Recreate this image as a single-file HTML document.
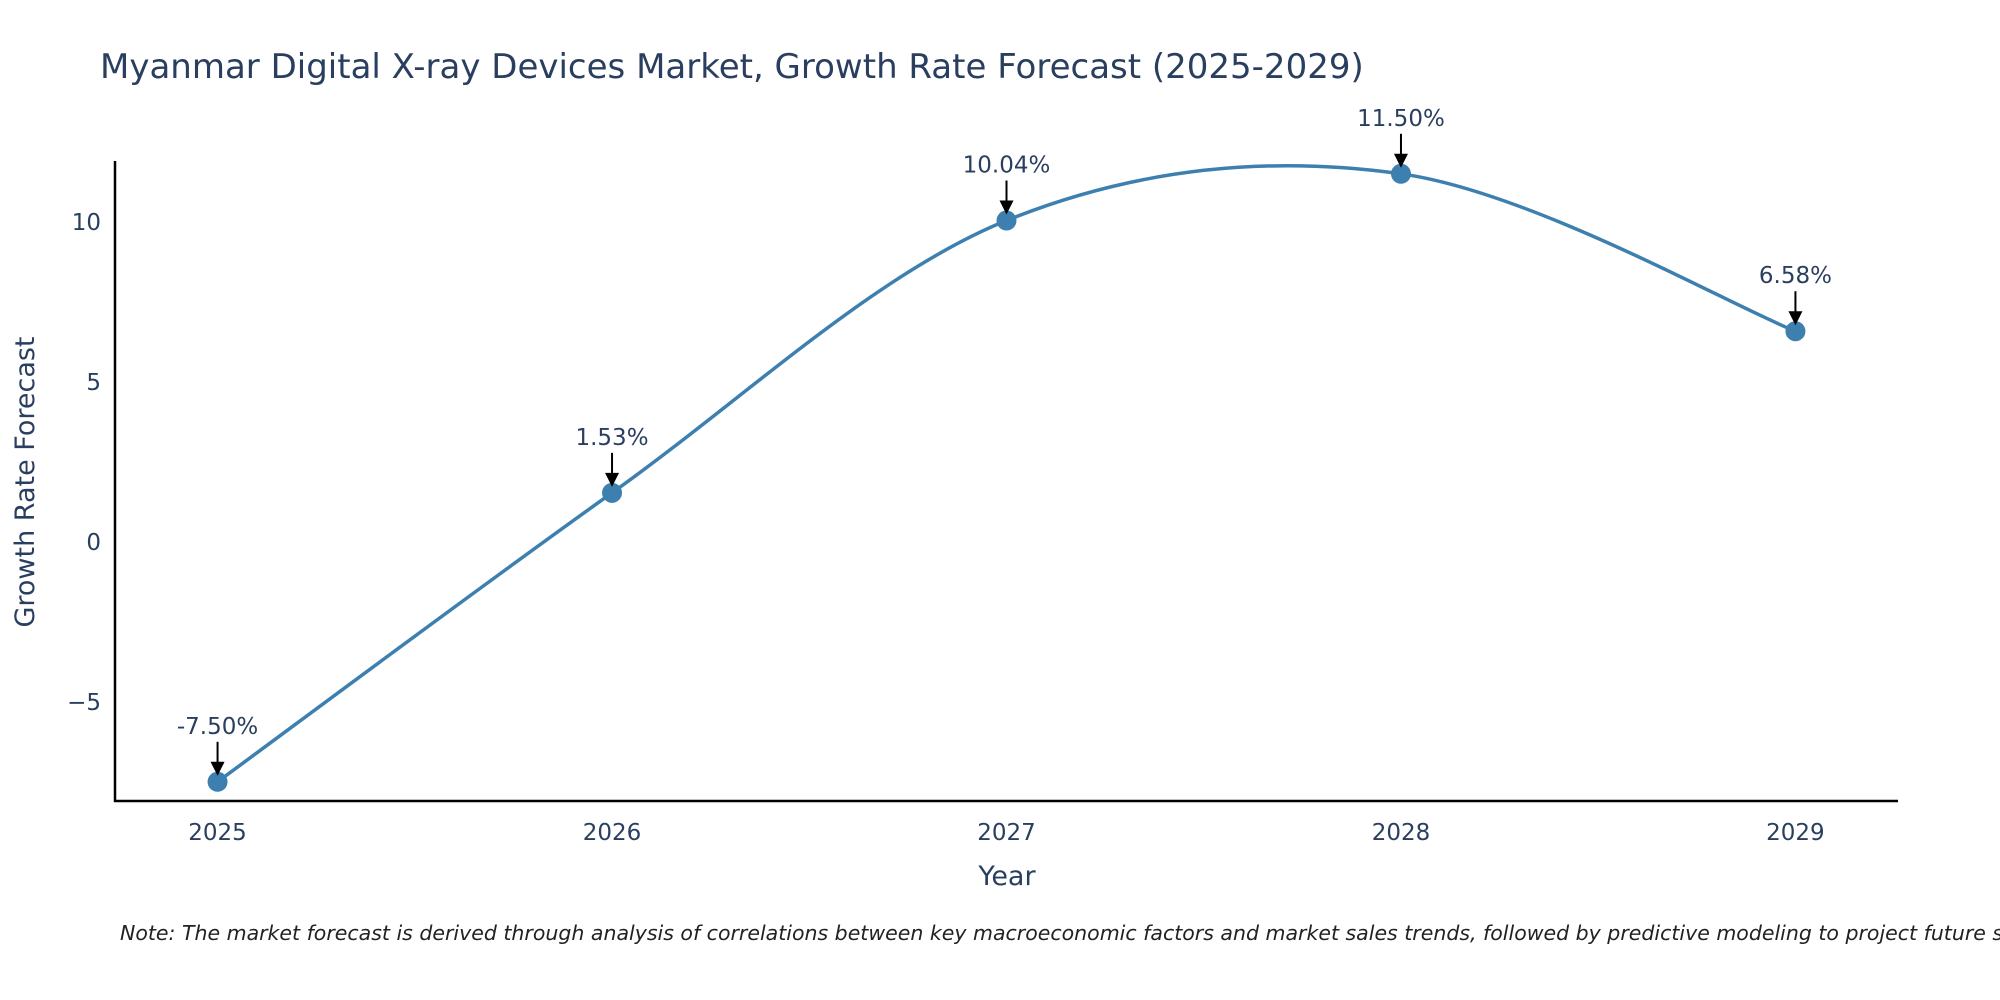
<!DOCTYPE html>
<html><head><meta charset="utf-8"><style>
html,body{margin:0;padding:0;background:#fff;}
svg{display:block;font-family:"DejaVu Sans","Liberation Sans",sans-serif;}
</style></head><body>
<svg id="chart" width="2000" height="1000" xmlns="http://www.w3.org/2000/svg">
<text x="100" y="78" font-size="34" fill="#2a3f5f">Myanmar Digital X-ray Devices Market, Growth Rate Forecast (2025-2029)</text>
<g id="plot"></g>
<text x="1007" y="885" font-size="27" fill="#2a3f5f" text-anchor="middle">Year</text>
<text transform="translate(34,482) rotate(-90)" font-size="27" fill="#2a3f5f" text-anchor="middle">Growth Rate Forecast</text>
<text x="120" y="940" font-size="20.5" font-style="italic" fill="#222">Note: The market forecast is derived through analysis of correlations between key macroeconomic factors and market sales trends, followed by predictive modeling to project future sales.</text>
</svg>
<script>
const years = [2025, 2026, 2027, 2028, 2029];
const growth = [-7.50, 1.53, 10.04, 11.50, 6.58];
const yTicks = [-5, 0, 5, 10];
const yTickLabels = ["\u22125", "0", "5", "10"];

const NS = "http://www.w3.org/2000/svg";
const g = document.getElementById("plot");
const X0 = 115, X1 = 1898, YB = 801, YT = 161;
const xMin = 2024.74, xMax = 2029.26, yMin = -8.1, yMax = 11.9;
const xs = v => X0 + (v - xMin) / (xMax - xMin) * (X1 - X0);
const ys = v => YB - (v - yMin) / (yMax - yMin) * (YB - YT);
function mk(tag, attrs) { const e = document.createElementNS(NS, tag); for (const k in attrs) e.setAttribute(k, attrs[k]); g.appendChild(e); return e; }

let e = mk("line", {x1: X0, y1: YT, x2: X0, y2: YB + 1, stroke: "#000", "stroke-width": 2.5});


e = mk("line", {x1: X0 - 1, y1: YB, x2: X1, y2: YB, stroke: "#000", "stroke-width": 2.5});



yTicks.forEach((t, i) => {
  const el = mk("text", {x: X0 - 14, y: ys(t) + 8, "font-size": 23, fill: "#2a3f5f", "text-anchor": "end"});
  el.textContent = yTickLabels[i];
  
  
});
years.forEach(yr => {
  const el = mk("text", {x: xs(yr), y: YB + 39, "font-size": 23, fill: "#2a3f5f", "text-anchor": "middle"});
  el.textContent = String(yr);
  
  
});

const pts = years.map((yr, i) => [xs(yr), ys(growth[i])]);
let d = "M" + pts[0][0] + "," + pts[0][1];
const tension = 0.5;
for (let i = 0; i < pts.length - 1; i++) {
  const p0 = pts[Math.max(0, i - 1)], p1 = pts[i], p2 = pts[i + 1], p3 = pts[Math.min(pts.length - 1, i + 2)];
  const c1 = [p1[0] + (p2[0] - p0[0]) * tension / 3, p1[1] + (p2[1] - p0[1]) * tension / 3];
  const c2 = [p2[0] - (p3[0] - p1[0]) * tension / 3, p2[1] - (p3[1] - p1[1]) * tension / 3];
  d += " C" + c1 + " " + c2 + " " + p2;
}
e = mk("path", {d: d, fill: "none", stroke: "#3d80b0", "stroke-width": 3.5});



pts.forEach((p, i) => {
  const c = mk("circle", {cx: p[0], cy: p[1], r: 10, fill: "#3d80b0"});
  
  
  const ln = mk("line", {x1: p[0], y1: p[1] - 40, x2: p[0], y2: p[1] - 16, stroke: "#000", "stroke-width": 2});
  
  
  const ah = mk("polygon", {points: (p[0] - 7) + "," + (p[1] - 20) + " " + (p[0] + 7) + "," + (p[1] - 20) + " " + p[0] + "," + (p[1] - 6), fill: "#000"});
  
  
  const t = mk("text", {x: p[0], y: p[1] - 48, "font-size": 23, fill: "#2a3f5f", "text-anchor": "middle"});
  t.textContent = growth[i].toFixed(2) + "%";
  
  
});
</script>
</body></html>
